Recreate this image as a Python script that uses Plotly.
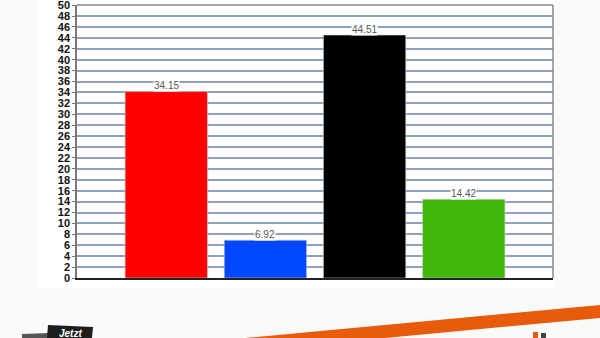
import plotly.graph_objects as go

categories = ["A", "B", "C", "D"]
values = [34.15, 6.92, 44.51, 14.42]
colors = ["#ff0000", "#0048ff", "#000000", "#40b80a"]
y_ticks = list(range(0, 51, 2))

W, H = 600, 338
L, R, T, B = 77, 553, 5, 278


def px(x):
    return (x - L) / (R - L)


def py(y):
    return (B - y) / (B - T)


fig = go.Figure()
fig.add_trace(go.Bar(
    x=categories, y=values,
    marker=dict(color=colors, line=dict(color="rgba(200,200,200,0.6)", width=1)),
    width=0.83,
    hoverinfo="skip",
))

for c, v in zip(categories, values):
    fig.add_annotation(
        x=c, y=v, text=f"{v:.2f}", showarrow=False, yshift=6,
        font=dict(family="Arial, Liberation Sans", size=10, color="#555555"),
        bgcolor="white", borderpad=0,
    )

shapes = [
    dict(type="rect", xref="paper", yref="paper", x0=px(38), x1=px(555), y0=py(288), y1=py(0),
         fillcolor="white", line=dict(width=0), layer="below"),
    dict(type="path", xref="paper", yref="paper",
         path=f"M {px(245)} {py(338)} L {px(600)} {py(305)} L {px(600)} {py(318)} L {px(385)} {py(338)} Z",
         fillcolor="#e85a0c", line=dict(width=0)),
    dict(type="path", xref="paper", yref="paper",
         path=f"M {px(22)} {py(334)} L {px(50)} {py(333)} L {px(50)} {py(338)} L {px(22)} {py(338)} Z",
         fillcolor="#555555", line=dict(width=0)),
    dict(type="path", xref="paper", yref="paper",
         path=f"M {px(48)} {py(325)} L {px(93)} {py(327)} L {px(92)} {py(338)} L {px(47)} {py(338)} Z",
         fillcolor="#1e1e1e", line=dict(width=0)),
    dict(type="rect", xref="paper", yref="paper", x0=px(533), x1=px(538), y0=py(338), y1=py(332),
         fillcolor="#e85a0c", line=dict(width=0)),
    dict(type="rect", xref="paper", yref="paper", x0=px(541), x1=px(546), y0=py(338), y1=py(333),
         fillcolor="#444444", line=dict(width=0)),
    dict(type="line", xref="paper", yref="paper", x0=0, x1=1, y0=1, y1=1,
         line=dict(color="#888888", width=1.5)),
    dict(type="line", xref="paper", yref="paper", x0=1, x1=1, y0=0, y1=1,
         line=dict(color="#888888", width=1.5)),
]

fig.add_annotation(xref="paper", yref="paper", x=px(70), y=py(333), yanchor="middle", xanchor="center",
                   text="<b><i>Jetzt</i></b>", showarrow=False,
                   font=dict(family="Arial, Liberation Sans", size=10, color="#ffffff"))

fig.update_layout(
    width=W, height=H,
    margin=dict(l=L, r=W - R, t=T, b=H - B, autoexpand=False),
    paper_bgcolor="#fafaf8",
    plot_bgcolor="white",
    showlegend=False,
    shapes=shapes,
    xaxis=dict(
        type="category", range=[-0.9, 3.9], showticklabels=False, showgrid=False,
        showline=True, linecolor="#222222", linewidth=1.5, ticks="", zeroline=False,
        automargin=False,
    ),
    yaxis=dict(
        range=[0, 50.02], tickvals=y_ticks, ticktext=[str(t) for t in y_ticks],
        ticklabeloverflow="allow", automargin=False,
        showgrid=True, gridcolor="#8ea2be", gridwidth=1.8,
        showline=True, linecolor="#777777", linewidth=1.5,
        ticks="outside", ticklen=3, tickcolor="#777777",
        tickfont=dict(family="Arial, Liberation Sans", size=11, color="#111111", weight="bold"),
        zeroline=False,
    ),
)

fig.write_html("out.html")
